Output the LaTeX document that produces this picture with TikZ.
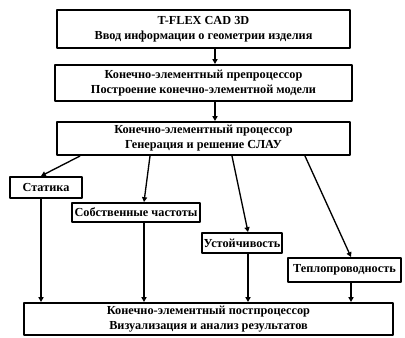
\documentclass[tikz,border=0pt]{standalone}
\usepackage{fontspec}
\setmainfont{Liberation Serif}
\usepackage{tikz}
\usetikzlibrary{arrows.meta}

\begin{document}
\begin{tikzpicture}[line cap=round,line join=round,>={Triangle[length=3.6pt,width=3.8pt]},x=0.75pt,y=-0.75pt,
    blk/.style={rectangle, draw, line width=1.5pt, inner sep=0pt, align=center,
        font=\fontsize{9.2}{11.3}\selectfont\bfseries},
    sz/.style 2 args={minimum width=#1*0.75pt, minimum height=#2*0.75pt},
    link/.style={line width=1pt}]
                    \useasboundingbox (0,0) rectangle (405,338);

                    \node[blk, sz={293}{38}] (cad) at (203.5,29) {T-FLEX CAD 3D\\Ввод информации о геометрии изделия};
                    \node[blk, sz={297}{36}] (pre) at (203.5,83) {Конечно-элементный препроцессор\\Построение конечно-элементной модели};
                    \node[blk, sz={293}{33}] (proc) at (203.5,138.5) {Конечно-элементный процессор\\Генерация и решение СЛАУ};

                    \node[blk, sz={72}{21}] (stat) at (46,187.5) {Статика};
                    \node[blk, sz={128}{19}] (freq) at (136,212.5) {Собственные частоты};
                    \node[blk, sz={80}{20}] (stab) at (242,243) {Устойчивость};
                    \node[blk, sz={113}{24}] (heat) at (344.5,270) {Теплопроводность};

                    \node[blk, sz={369}{32}] (post) at (208.5,319) {Конечно-элементный постпроцессор\\Визуализация и анализ результатов};

                    % columns of the connectors
                    \coordinate (m) at (215,0);
                    \coordinate (s1) at (80,0);
                    \coordinate (s2) at (150,0);
                    \coordinate (s3) at (232,0);
                    \coordinate (s4) at (305,0);
                    \coordinate (e1) at (41,0);
                    \coordinate (e2) at (144,0);
                    \coordinate (e3) at (248,0);
                    \coordinate (e4) at (351,0);

                    \draw [link,->] (cad.south -| m) -- (pre.north -| m);
                    \draw [link,->] (pre.south -| m) -- (proc.north -| m);

                    \draw [link,->] (proc.south -| s1) -- (stat.north -| e1);
                    \draw [link,->] (proc.south -| s2) -- (freq.north -| e2);
                    \draw [link,->] (proc.south -| s3) -- (stab.north -| e3);
                    \draw [link,->] (proc.south -| s4) -- (heat.north -| e4);

                    \draw [link,->] (stat.south -| e1) -- (post.north -| e1);
                    \draw [link,->] (freq.south -| e2) -- (post.north -| e2);
                    \draw [link,->] (stab.south -| e3) -- (post.north -| e3);
                    \draw [link,->] (heat.south -| e4) -- (post.north -| e4);
                \end{tikzpicture}
\end{document}
